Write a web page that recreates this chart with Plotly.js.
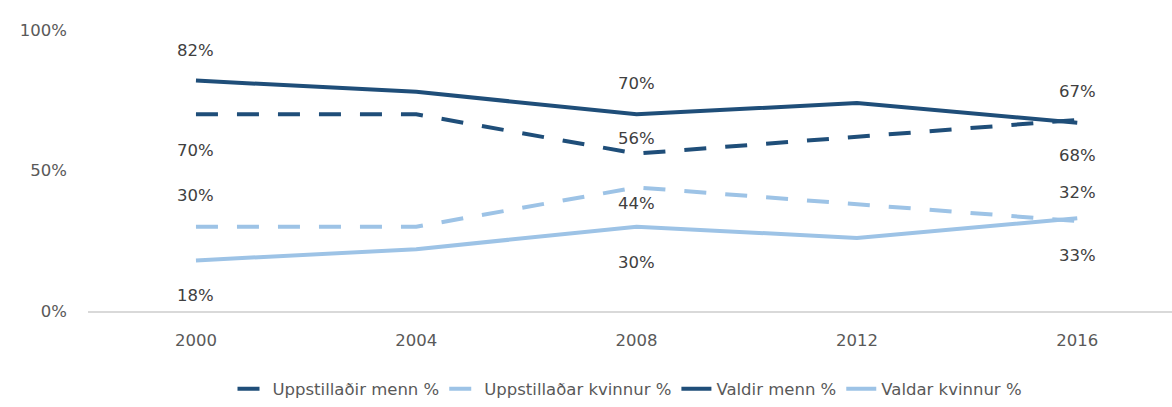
<!DOCTYPE html>
<html><head><meta charset="utf-8">
<script src="https://cdn.plot.ly/plotly-3.0.1.min.js"></script>
<style>html,body{margin:0;padding:0;background:#fff}#chart{width:1172px;height:407px}</style>
</head><body><div id="chart"></div>
<script>
const years = ['2000','2004','2008','2012','2016'];
const uppstilladirMenn = [0.70, 0.70, 0.56, 0.62, 0.68];
const uppstilladarKvinnur = [0.30, 0.30, 0.44, 0.38, 0.32];
const valdirMenn = [0.82, 0.78, 0.70, 0.74, 0.67];
const valdarKvinnur = [0.18, 0.22, 0.30, 0.26, 0.33];
const labelledYears = ['2000','2008','2016'];
const yTicks = [0, 0.5, 1];
const yTickText = ['0%','50%','100%'];

const dark = '#1F4E79', light = '#9DC3E6';
const FONT = '"DejaVu Sans", Verdana, sans-serif';
const series = [
  {name:'Uppstillaðir menn %', y:uppstilladirMenn, color:dark, dash:'22px,19px', shift:{'2000':-36,'2008':15,'2016':-36}},
  {name:'Uppstillaðar kvinnur %', y:uppstilladarKvinnur, color:light, dash:'22px,19px', shift:{'2000':31,'2008':-16,'2016':29}},
  {name:'Valdir menn %', y:valdirMenn, color:dark, dash:'solid', shift:{'2000':30,'2008':31,'2016':31}},
  {name:'Valdar kvinnur %', y:valdarKvinnur, color:light, dash:'solid', shift:{'2000':-35,'2008':-36,'2016':-37}}
];
const traces = series.map(s => ({
  type:'scatter', mode:'lines', x:years, y:s.y, name:s.name,
  line:{color:s.color, width:4, dash:s.dash}, hoverinfo:'skip'
}));
const annotations = [];
series.forEach(s => {
  years.forEach((yr, i) => {
    if (labelledYears.includes(yr)) {
      annotations.push({x:i, y:s.y[i], xref:'x', yref:'y', text:Math.round(s.y[i]*100)+'%',
        showarrow:false, yshift:s.shift[yr], font:{family:FONT, size:16.5, color:'#404040'}});
    }
  });
});
const layout = {
  width:1172, height:407,
  margin:{l:88, r:0, t:30, b:92},
  paper_bgcolor:'#fff', plot_bgcolor:'#fff',
  font:{family:FONT, size:16.5, color:'#595959'},
  showlegend:true,
  legend:{orientation:'h', x:0.5, xanchor:'center', y:-0.215, yanchor:'top', font:{family:FONT, size:16.5, color:'#595959'}, traceorder:'normal'},
  xaxis:{type:'category', range:[-0.49, 4.43], showline:true, linecolor:'#d9d9d9', linewidth:1.5,
    showgrid:false, zeroline:false, ticks:'', ticklabelstandoff:14, tickfont:{family:FONT, size:16.5, color:'#595959'}},
  yaxis:{range:[0,1], tickvals:yTicks, ticktext:yTickText, showgrid:false, zeroline:false, showline:false,
    ticks:'', ticklabelstandoff:20, tickfont:{family:FONT, size:16.5, color:'#595959'}},
  annotations:annotations
};
Plotly.newPlot('chart', traces, layout, {displayModeBar:false, staticPlot:true});
</script></body></html>
